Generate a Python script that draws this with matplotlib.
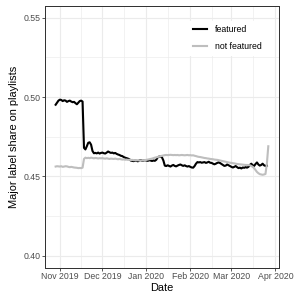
import numpy as np
import pandas as pd
import matplotlib
matplotlib.use('Agg')
import matplotlib.pyplot as plt
import matplotlib.dates as mdates

plt.rcParams['font.family'] = ['Liberation Sans', 'DejaVu Sans']

# Daily values, Oct 29 2019 - Mar 27 2020.
dates = pd.date_range('2019-10-29', '2020-03-27', freq='D')

featured = [
    # Oct 29-31
    0.4952, 0.4965, 0.4978,
    # Nov
    0.4984, 0.4982, 0.4975, 0.4980, 0.4978, 0.4970, 0.4975, 0.4978, 0.4972, 0.4968,
    0.4970, 0.4962, 0.4955, 0.4965, 0.4975, 0.4978, 0.4972, 0.4680, 0.4670, 0.4690,
    0.4712, 0.4715, 0.4700, 0.4660, 0.4646, 0.4648, 0.4645, 0.4650, 0.4644, 0.4648,
    # Dec
    0.4650, 0.4646, 0.4644, 0.4650, 0.4657, 0.4652, 0.4648, 0.4650, 0.4645, 0.4648,
    0.4642, 0.4638, 0.4635, 0.4630, 0.4628, 0.4622, 0.4618, 0.4615, 0.4612, 0.4608,
    0.4600, 0.4598, 0.4596, 0.4600, 0.4598, 0.4595, 0.4600, 0.4603, 0.4598, 0.4600, 0.4602,
    # Jan
    0.4600, 0.4598, 0.4602, 0.4600, 0.4597, 0.4600, 0.4598, 0.4605, 0.4620, 0.4625,
    0.4625, 0.4620, 0.4600, 0.4568, 0.4565, 0.4570, 0.4566, 0.4562, 0.4568, 0.4572,
    0.4566, 0.4563, 0.4568, 0.4572, 0.4575, 0.4570, 0.4566, 0.4570, 0.4565, 0.4562, 0.4565,
    # Feb
    0.4560, 0.4556, 0.4555, 0.4565, 0.4580, 0.4590, 0.4588, 0.4590, 0.4586, 0.4588,
    0.4590, 0.4585, 0.4588, 0.4592, 0.4586, 0.4585, 0.4580, 0.4576, 0.4580, 0.4585,
    0.4588, 0.4584, 0.4578, 0.4572, 0.4566, 0.4568, 0.4575, 0.4570, 0.4565,
    # Mar 1-27
    0.4560, 0.4556, 0.4560, 0.4565, 0.4558, 0.4552, 0.4555, 0.4550, 0.4556, 0.4554,
    0.4558, 0.4555, 0.4560, 0.4572, 0.4580, 0.4570, 0.4566, 0.4578, 0.4588, 0.4575,
    0.4568, 0.4572, 0.4580, 0.4570, 0.4566, 0.4568, np.nan,
]

not_featured = [
    # Oct 29-31
    0.4562, 0.4564, 0.4563,
    # Nov
    0.4562, 0.4564, 0.4560, 0.4562, 0.4564, 0.4563, 0.4560, 0.4558, 0.4560, 0.4558,
    0.4556, 0.4555, 0.4554, 0.4552, 0.4553, 0.4552, 0.4555, 0.4610, 0.4618, 0.4615,
    0.4617, 0.4615, 0.4618, 0.4616, 0.4614, 0.4616, 0.4615, 0.4613, 0.4615, 0.4614,
    # Dec
    0.4615, 0.4613, 0.4612, 0.4614, 0.4612, 0.4610, 0.4612, 0.4611, 0.4610, 0.4612,
    0.4610, 0.4608, 0.4610, 0.4608, 0.4606, 0.4607, 0.4605, 0.4606, 0.4604, 0.4605,
    0.4603, 0.4604, 0.4602, 0.4603, 0.4601, 0.4602, 0.4600, 0.4601, 0.4600, 0.4602, 0.4603,
    # Jan
    0.4604, 0.4606, 0.4608, 0.4610, 0.4612, 0.4615, 0.4618, 0.4620, 0.4622, 0.4625,
    0.4627, 0.4630, 0.4632, 0.4634, 0.4635, 0.4634, 0.4635, 0.4636, 0.4635, 0.4634,
    0.4635, 0.4634, 0.4635, 0.4633, 0.4634, 0.4635, 0.4634, 0.4633, 0.4634, 0.4635, 0.4633,
    # Feb
    0.4634, 0.4632, 0.4633, 0.4630, 0.4628, 0.4625, 0.4623, 0.4622, 0.4620, 0.4618,
    0.4616, 0.4615, 0.4613, 0.4612, 0.4610, 0.4609, 0.4608, 0.4606, 0.4605, 0.4604,
    0.4602, 0.4600, 0.4598, 0.4596, 0.4594, 0.4592, 0.4590, 0.4588, 0.4586,
    # Mar 1-27
    0.4585, 0.4583, 0.4582, 0.4580, 0.4578, 0.4577, 0.4576, 0.4575, 0.4574, 0.4573,
    0.4572, 0.4572, 0.4571, 0.4570, 0.4566, 0.4560, 0.4552, 0.4540, 0.4528, 0.4520,
    0.4514, 0.4512, 0.4510, 0.4512, 0.4515, 0.4580, 0.4690,
]

y_ticks = [0.40, 0.45, 0.50, 0.55]

fig = plt.figure(figsize=(298 / 72, 295 / 72), dpi=72)
ax = fig.add_axes([0.151, 0.0932, 0.785, 0.8865])

ax.plot(dates, featured, color='black', lw=2.1, label='featured', zorder=3)
ax.plot(dates, not_featured, color='#BEBEBE', lw=2.1, label='not featured', zorder=3)

# ggplot-like 5% expansion
x0 = mdates.date2num(dates[0])
x1 = mdates.date2num(dates[-1])
pad = (x1 - x0) * 0.05
ax.set_xlim(x0 - pad, x1 + pad)
ax.set_ylim(0.40 - 0.0075, 0.55 + 0.0075)

ax.xaxis.set_major_locator(mdates.MonthLocator())
ax.xaxis.set_major_formatter(mdates.DateFormatter('%b %Y'))
ax.xaxis.set_minor_locator(mdates.MonthLocator(bymonthday=16))
ax.set_yticks(y_ticks)
ax.set_yticks([0.425, 0.475, 0.525], minor=True)
ax.yaxis.set_major_formatter(plt.FuncFormatter(lambda v, p: f'{v:.2f}'))

ax.grid(which='major', color='#EBEBEB', lw=1.1, zorder=0)
ax.grid(which='minor', color='#EBEBEB', lw=0.6, zorder=0)
ax.set_axisbelow(True)
ax.tick_params(which='major', length=2.75, width=0.8, color='#333333',
               labelsize=8.8, labelcolor='#4D4D4D', pad=2)
ax.tick_params(which='minor', length=0)
for s in ax.spines.values():
    s.set_color('#333333')
    s.set_linewidth(1.0)

ax.set_xlabel('Date', fontsize=11, labelpad=2)
ax.set_ylabel('Major label share on playlists', fontsize=11, labelpad=4)

leg = ax.legend(loc='upper right', bbox_to_anchor=(0.965, 0.96), fontsize=8.8,
                handlelength=1.6, handletextpad=0.9, labelspacing=0.9,
                borderpad=0.5, frameon=True, fancybox=False)
leg.get_frame().set_edgecolor('none')
leg.get_frame().set_facecolor('white')
leg.get_frame().set_alpha(1)

fig.savefig('out.png', dpi=72)
